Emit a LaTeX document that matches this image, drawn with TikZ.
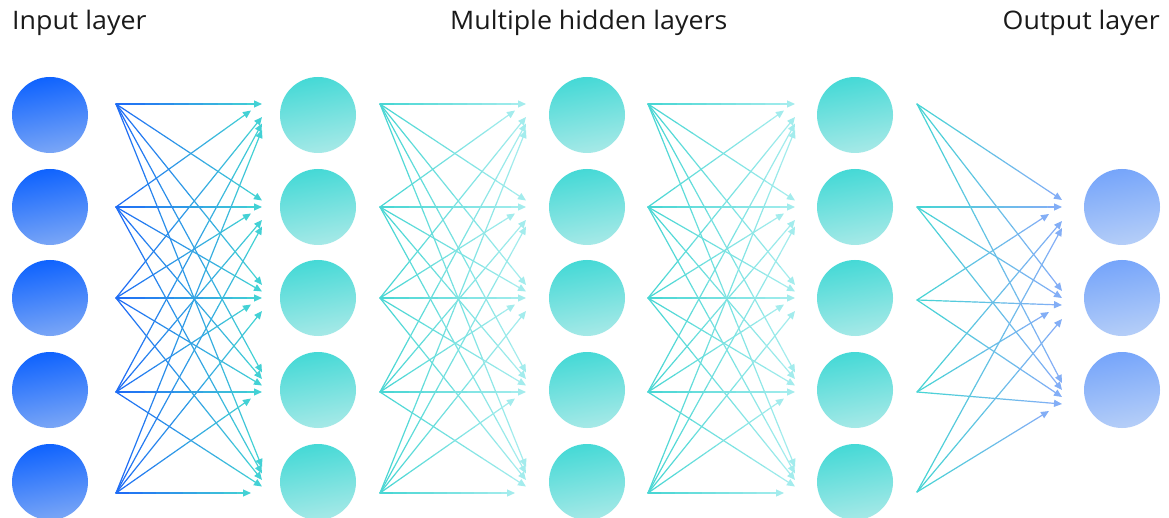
\documentclass[tikz,border=0pt]{standalone}
\usepackage{fontspec}
\setmainfont{Open Sans}
\usetikzlibrary{calc,arrows.meta}
\definecolor{inTop}{HTML}{0F63FE}
\definecolor{inBot}{HTML}{7AA6F6}
\definecolor{hidTop}{HTML}{45D9D6}
\definecolor{hidBot}{HTML}{A6E9E7}
\definecolor{outTop}{HTML}{76A5FA}
\definecolor{outBot}{HTML}{B5CEF8}
\definecolor{lnBlue}{HTML}{1D68F7}
\definecolor{lnTeal}{HTML}{45D6D3}
\definecolor{lnPale}{HTML}{A8EDEE}
\definecolor{lnSky}{HTML}{86ACF8}
\definecolor{txt}{HTML}{1A1A1A}
\newcommand\gradconn[4]{%
  \foreach \q in {0,...,9}{%
    \pgfmathsetmacro\ta{\q/10}%
    \pgfmathsetmacro\tb{(\q+1)/10}%
    \pgfmathsetmacro\pc{100-100*(\q+0.5)/10}%
    \ifnum\q<9
      \draw[conn,color=#3!\pc!#4] ($(#1)!\ta!(#2)$) -- ($(#1)!\tb!(#2)$);
    \else
      \draw[conn,line cap=butt,color=#3!\pc!#4,-{Triangle[length=8pt,width=7pt]}] ($(#1)!\ta!(#2)$) -- (#2);
    \fi
  }%
}
\newcommand\widetext[1]{\scalebox{1.05}[1]{#1}}
\begin{document}
\begin{tikzpicture}[x=1pt,y=-1pt,
  conn/.style={line width=1.2pt,line cap=round},
  neuron/.style={circle,minimum size=76pt,inner sep=0pt,draw=none},
  inneuron/.style={neuron,top color=inTop,bottom color=inBot,shading angle=10},
  hidneuron/.style={neuron,top color=hidTop,bottom color=hidBot,shading angle=10},
  outneuron/.style={neuron,top color=outTop,bottom color=outBot,shading angle=10},
  title/.style={text=txt,font=\fontsize{25.5}{30}\selectfont,inner sep=0pt}]
\useasboundingbox (0,0) rectangle (1169,518);
\fill[white] (0,0) rectangle (1169,518);
% titles
\node[title,anchor=base west] (tin) at (12,30) {\widetext{Input layer}};
\node[title,anchor=base west] (thid) at (450,30) {\widetext{Multiple hidden layers}};
\node[title,anchor=base east] (tout) at (1160,30) {\widetext{Output layer}};
% neurons
\foreach \r/\y in {1/115,2/207,3/298,4/390,5/482}{
  \node[inneuron] (in\r) at (50,\y) {};
  \node[hidneuron] (ha\r) at (318,\y) {};
  \node[hidneuron] (hb\r) at (587,\y) {};
  \node[hidneuron] (hc\r) at (855,\y) {};
}
\foreach \r/\y in {1/207,2/298,3/390}{
  \node[outneuron] (out\r) at (1122,\y) {};
}
% connector fans between layers 1-4
\foreach \k/\sx/\tx/\ca/\cb in {1/116/262/lnBlue/lnTeal,2/380/526/lnTeal/lnPale,3/648/795/lnTeal/lnPale}{
  \foreach \i/\sy in {1/104,2/207,3/298,4/392,5/493}{
    \coordinate (s\k-\i) at (\sx,\sy);
    \foreach \j/\ty in {1/104,2/207,3/298,4/392,5/493}{
      \pgfmathsetmacro\tipy{\ty+(\i-\j)*6.5}
      \pgfmathsetmacro\tipx{\tx-11*or(\i==\j+1,and(\i==5,\j==5))}
      \coordinate (t\k-\i-\j) at (\tipx,\tipy);
      \gradconn{s\k-\i}{t\k-\i-\j}{\ca}{\cb}
    }
  }
}
% connector fan to output layer
\foreach \i/\sy in {1/104,2/207,3/300,4/392,5/492}{
  \coordinate (s4-\i) at (917,\sy);
  \foreach \j/\ty in {1/207,2/298,3/390}{
    \pgfmathsetmacro\tipy{\ty+(\i-2)*7}
    \pgfmathsetmacro\tipx{1062-13*(\i==\j+2)}
    \coordinate (t4-\i-\j) at (\tipx,\tipy);
    \gradconn{s4-\i}{t4-\i-\j}{lnTeal}{lnSky}
  }
}
\end{tikzpicture}
\end{document}
